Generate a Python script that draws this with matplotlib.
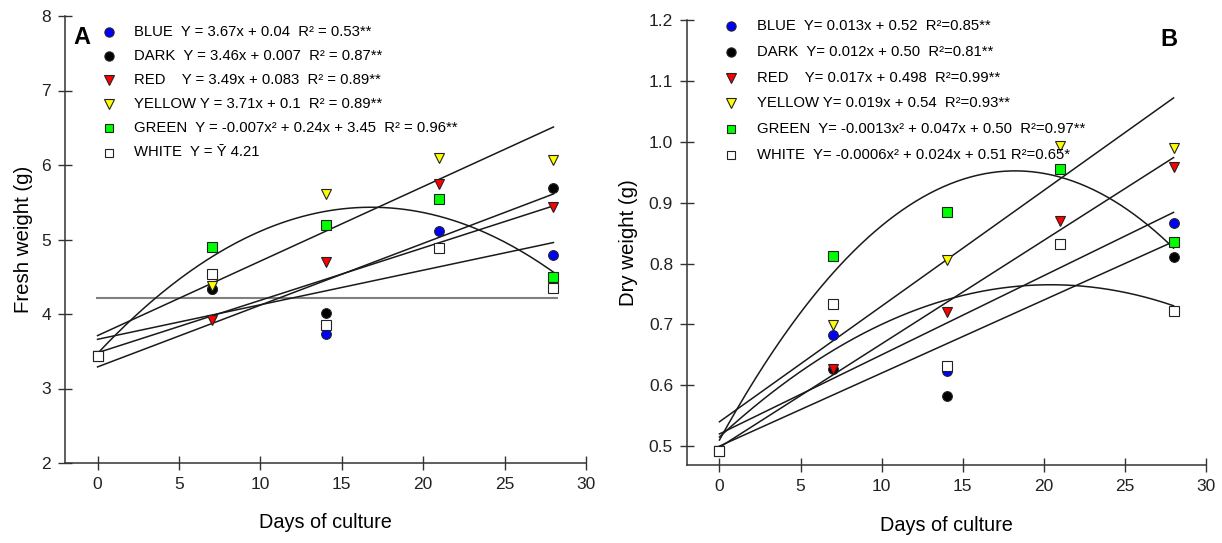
import numpy as np
import matplotlib
matplotlib.use('Agg')
import matplotlib.pyplot as plt
from matplotlib import font_manager

# days of culture
days = [0, 7, 14, 21, 28]
series = ['BLUE', 'DARK', 'RED', 'YELLOW', 'GREEN', 'WHITE']

# panel A: fresh weight (g)
fresh_blue = [3.44, 4.33, 3.73, 5.11, 4.79]
fresh_dark = [3.44, 4.34, 4.02, np.nan, 5.69]
fresh_red = [3.44, 3.92, 4.70, 5.75, 5.43]
fresh_yellow = [3.44, 4.37, 5.61, 6.10, 6.07]
fresh_green = [3.44, 4.90, 5.19, 5.54, 4.49]
fresh_white = [3.44, 4.54, 3.85, 4.89, 4.35]

# panel B: dry weight (g)
dry_blue = [0.492, 0.682, 0.623, np.nan, 0.867]
dry_dark = [0.492, 0.626, 0.582, np.nan, 0.810]
dry_red = [0.492, 0.627, 0.720, 0.870, 0.958]
dry_yellow = [0.492, 0.699, 0.806, 0.993, 0.990]
dry_green = [0.492, 0.813, 0.884, 0.956, 0.836]
dry_white = [0.492, 0.733, 0.632, 0.832, 0.722]

# fitted curves as drawn (quadratic, linear, intercept)
fresh_fits = [[0, 0.0464, 3.66], [0, 0.0704, 3.48], [0, 0.0829, 3.29],
              [0, 0.100, 3.71], [-0.00695, 0.2336, 3.47], None]
fresh_white_mean = 4.21
dry_fits = [[0, 0.013, 0.52], [0, 0.012, 0.50], [0, 0.017, 0.498],
            [0, 0.019, 0.54], [-0.00133, 0.0485, 0.51], [-0.0006, 0.0245, 0.515]]

fresh_legend = [
    'BLUE  Y = 3.67x + 0.04  R² = 0.53**',
    'DARK  Y = 3.46x + 0.007  R² = 0.87**',
    'RED    Y = 3.49x + 0.083  R² = 0.89**',
    'YELLOW Y = 3.71x + 0.1  R² = 0.89**',
    'GREEN  Y = -0.007x² + 0.24x + 3.45  R² = 0.96**',
    'WHITE  Y = Ȳ 4.21',
]
dry_legend = [
    'BLUE  Y= 0.013x + 0.52  R²=0.85**',
    'DARK  Y= 0.012x + 0.50  R²=0.81**',
    'RED    Y= 0.017x + 0.498  R²=0.99**',
    'YELLOW Y= 0.019x + 0.54  R²=0.93**',
    'GREEN  Y= -0.0013x² + 0.047x + 0.50  R²=0.97**',
    'WHITE  Y= -0.0006x² + 0.024x + 0.51 R²=0.65*',
]

styles = {
    'BLUE': dict(marker='o', mfc='#0000ff'),
    'DARK': dict(marker='o', mfc='#000000'),
    'RED': dict(marker='v', mfc='#ff0000'),
    'YELLOW': dict(marker='v', mfc='#ffff00'),
    'GREEN': dict(marker='s', mfc='#00ff00'),
    'WHITE': dict(marker='s', mfc='#ffffff'),
}
msizes = {'o': 7, 'v': 7.5, 's': 6.5}

names = {f.name for f in font_manager.fontManager.ttflist}
if 'Liberation Sans Narrow' in names:
    family = ['Liberation Sans Narrow', 'Liberation Sans', 'DejaVu Sans']
    k = 1.0
else:
    family = ['Liberation Sans', 'DejaVu Sans']
    k = 0.84
plt.rcParams['font.family'] = family

W, H = 1222, 543
fig = plt.figure(figsize=(W / 100, H / 100), dpi=100)


def px(x, y):
    return x / W, 1 - y / H


def setup_axes(ax, ylabel, yticks, ylim, fmt):
    ax.set_xlim(-2, 30)
    ax.set_ylim(*ylim)
    ax.set_xticks(range(0, 31, 5))
    ax.set_yticks(yticks)
    ax.set_yticklabels([fmt.format(v) for v in yticks])
    for s in ['top', 'right']:
        ax.spines[s].set_visible(False)
    for s in ['left', 'bottom']:
        ax.spines[s].set_linewidth(1.1)
        ax.spines[s].set_color('#333333')
    ax.tick_params(direction='inout', length=10, width=1.0, color='#333333',
                   labelsize=12.5, labelcolor='#222222', pad=5)
    ax.set_xlabel('Days of culture', fontsize=17 * k)
    ax.set_ylabel(ylabel, fontsize=17.5 * k)
    ax.xaxis.label.set_va('center')
    ax.yaxis.label.set_va('center')


def draw_points(ax, data):
    for name, vals in zip(series, data):
        st = styles[name]
        ax.plot(days, vals, linestyle='none', marker=st['marker'], mfc=st['mfc'],
                mec='#222222', mew=0.8, ms=msizes[st['marker']], zorder=3, clip_on=False)


def draw_fits(ax, fits):
    xs = np.linspace(days[0], days[-1], 200)
    for coef in fits:
        if coef is None:
            continue
        ax.plot(xs, np.polyval(coef, xs), color='#1a1a1a', lw=1.1, zorder=2)


def draw_legend(labels, mx, tx, y0, dy):
    for i, (name, lab) in enumerate(zip(series, labels)):
        y = y0 + dy * i
        st = styles[name]
        fig.add_artist(plt.Line2D([mx / W], [1 - y / H], linestyle='none',
                                  marker=st['marker'], mfc=st['mfc'], mec='#222222',
                                  mew=0.8, ms=msizes[st['marker']] * 0.95,
                                  transform=fig.transFigure))
        fig.text(*px(tx, y), lab, fontsize=12.8 * k, ha='left', va='center')


# panel A
axA = fig.add_axes([65 / W, 1 - 463 / H, (586 - 65) / W, (463 - 16) / H])
setup_axes(axA, 'Fresh weight (g)', range(2, 9), (2, 8), '{:d}')
axA.hlines(fresh_white_mean, -0.1, 28.3, color='#808080', lw=1.5, zorder=2)
draw_fits(axA, fresh_fits)
draw_points(axA, [fresh_blue, fresh_dark, fresh_red, fresh_yellow, fresh_green, fresh_white])
axA.yaxis.set_label_coords(-0.079, 0.5)
axA.xaxis.set_label_coords(0.5, -0.132)
draw_legend(fresh_legend, 109, 134, 31.5, 24.2)
fig.text(*px(82, 37), 'A', fontsize=19 * k + 1, fontweight='bold', ha='center', va='center')

# panel B
axB = fig.add_axes([687 / W, 1 - 465 / H, (1206 - 687) / W, (465 - 20) / H])
setup_axes(axB, 'Dry weight (g)', np.round(np.arange(0.5, 1.21, 0.1), 1), (0.469, 1.2), '{:.1f}')
draw_fits(axB, dry_fits)
draw_points(axB, [dry_blue, dry_dark, dry_red, dry_yellow, dry_green, dry_white])
axB.yaxis.set_label_coords(-0.112, 0.5)
axB.xaxis.set_label_coords(0.5, -0.135)
draw_legend(dry_legend, 731, 757, 26, 25.8)
fig.text(*px(1169, 40), 'B', fontsize=19 * k + 1, fontweight='bold', ha='center', va='center')

fig.savefig('out.png', dpi=100)
